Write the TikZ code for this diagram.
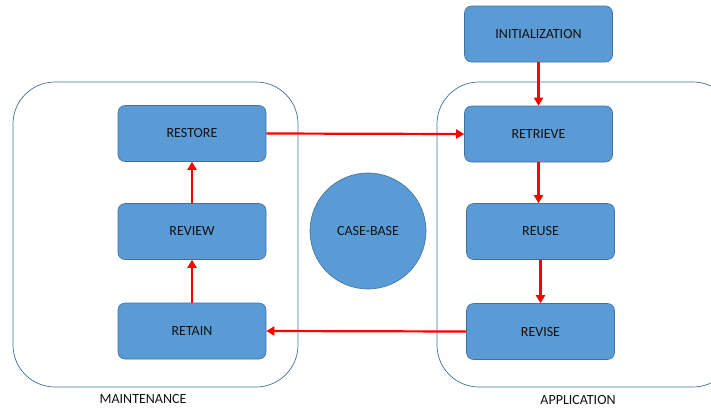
\documentclass[tikz,border=0pt]{standalone}
\usepackage{fontspec}
\setmainfont{Carlito}
\usetikzlibrary{arrows.meta}
\definecolor{boxfill}{HTML}{5B9BD5}
\definecolor{boxline}{HTML}{41719C}
\definecolor{txt}{HTML}{111111}
\begin{document}
\begin{tikzpicture}[x=1pt,y=-1pt,
  stepbox/.style={draw=boxline, line width=0.6pt, fill=boxfill, rounded corners=7pt, minimum width=148pt, minimum height=56pt, inner sep=0pt, text=txt, font=\fontsize{14}{16}\selectfont},
  container/.style={draw=boxline, line width=0.7pt, rounded corners=42pt},
  flow/.style={draw=red, line width=2.2pt, -{Triangle[length=8pt,width=9pt]}},
  lbl/.style={font=\fontsize{14}{16}\selectfont, text=txt, inner sep=0pt}]
\useasboundingbox (0,0) rectangle (711,410);
\begin{scope}
\clip (0,0) rectangle (711,410);
\draw[container] (13,82) rectangle (298,387);
\draw[container] (437,82) rectangle (735,387);
\end{scope}
\node[stepbox] (restore) at (192,133.5) {RESTORE};
\node[stepbox] (review) at (192,231.5) {REVIEW};
\node[stepbox] (retain) at (192,331) {RETAIN};
\node[stepbox] (init) at (538.5,34) {INITIALIZATION};
\node[stepbox] (retrieve) at (538.5,134) {RETRIEVE};
\node[stepbox] (reuse) at (540.5,231.5) {REUSE};
\node[stepbox] (revise) at (540.5,331.5) {REVISE};
\node[circle, draw=boxline, line width=0.6pt, fill=boxfill, minimum size=116pt, inner sep=0pt, text=txt, font=\fontsize{14}{16}\selectfont] (cb) at (368,231) {CASE-BASE};
\node[lbl] (maint) at (143,399) {MAINTENANCE};
\node[lbl] (appl) at (578,400) {APPLICATION};
\draw[flow] (retain.north) -- (review.south);
\draw[flow] (review.north) -- (restore.south);
\draw[flow] (restore.east) -- (retrieve.west);
\draw[flow] (init.south) -- (retrieve.north);
\draw[flow] (retrieve.south) -- (retrieve.south |- reuse.north);
\draw[flow] (reuse.south) -- (revise.north);
\draw[flow] (revise.west) -- (retain.east);
\end{tikzpicture}
\end{document}
